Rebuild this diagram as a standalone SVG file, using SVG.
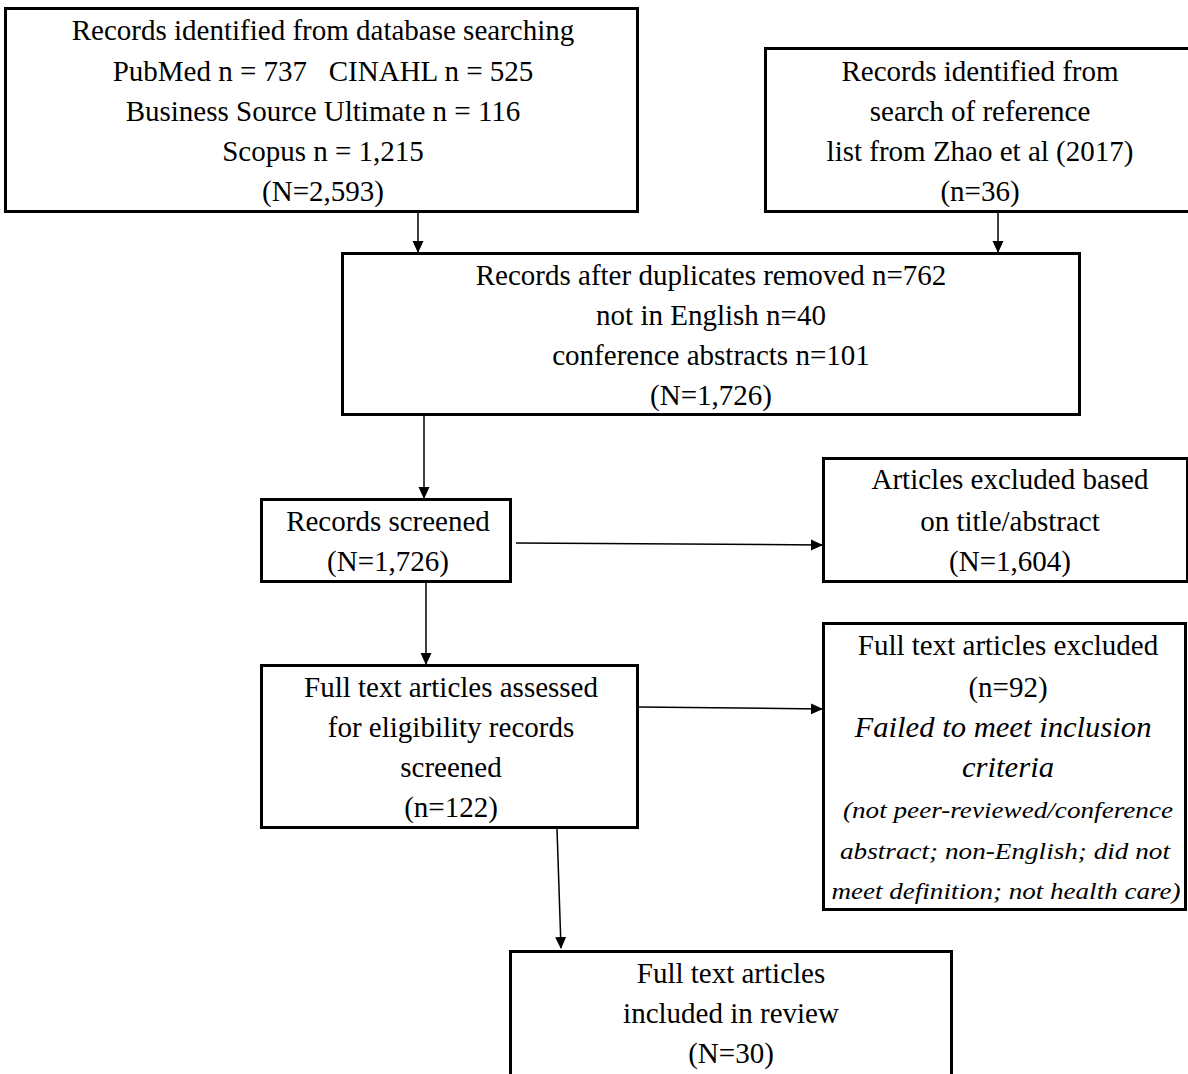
<svg xmlns="http://www.w3.org/2000/svg" width="1188" height="1074" viewBox="0 0 1188 1074">
<defs>
<style>
.box{fill:#fff;stroke:#000;stroke-width:3}
.t{font-family:"Liberation Serif","Times New Roman",serif;font-size:29px;fill:#000;text-anchor:middle}
.i{font-style:italic}
.s{font-size:23px}
.c{stroke:#000;stroke-width:1.5;fill:none}
</style>
<marker id="ah" markerWidth="12" markerHeight="12" refX="11" refY="6" orient="auto" markerUnits="userSpaceOnUse">
<path d="M0,0.5 L12,6 L0,11.5 Z" fill="#000"/>
</marker>
</defs>
<rect width="1188" height="1074" fill="#fff"/>
<g id="connectors">
<line class="c" x1="418" y1="213" x2="418" y2="252" marker-end="url(#ah)"/>
<line class="c" x1="998" y1="213" x2="998" y2="252" marker-end="url(#ah)"/>
<line class="c" x1="424" y1="416" x2="424" y2="498" marker-end="url(#ah)"/>
<line class="c" x1="516" y1="543" x2="822" y2="545" marker-end="url(#ah)"/>
<line class="c" x1="426" y1="583" x2="426" y2="664" marker-end="url(#ah)"/>
<line class="c" x1="639" y1="707" x2="822" y2="709" marker-end="url(#ah)"/>
<line class="c" x1="557" y1="829" x2="561" y2="948" marker-end="url(#ah)"/>
</g>
<g id="n1">
<rect class="box" x="5.5" y="8.5" width="632" height="203"/>
<text class="t" x="323" y="40">Records identified from database searching</text>
<text class="t" x="323" y="81" xml:space="preserve">PubMed n = 737   CINAHL n = 525</text>
<text class="t" x="323" y="121">Business Source Ultimate n = 116</text>
<text class="t" x="323" y="161">Scopus n = 1,215</text>
<text class="t" x="323" y="201">(N=2,593)</text>
</g>
<g id="n2">
<rect class="box" x="765.5" y="48.5" width="425" height="163"/>
<text class="t" x="980" y="81">Records identified from</text>
<text class="t" x="980" y="121">search of reference</text>
<text class="t" x="980" y="161">list from Zhao et al (2017)</text>
<text class="t" x="980" y="201">(n=36)</text>
</g>
<g id="n3">
<rect class="box" x="342.5" y="253.5" width="737" height="161"/>
<text class="t" x="711" y="285">Records after duplicates removed n=762</text>
<text class="t" x="711" y="325">not in English n=40</text>
<text class="t" x="711" y="365">conference abstracts n=101</text>
<text class="t" x="711" y="405">(N=1,726)</text>
</g>
<g id="n4">
<rect class="box" x="261.5" y="499.5" width="249" height="82"/>
<text class="t" x="388" y="531">Records screened</text>
<text class="t" x="388" y="571">(N=1,726)</text>
</g>
<g id="n5">
<rect class="box" x="823.5" y="458.5" width="364" height="123"/>
<text class="t" x="1010" y="489">Articles excluded based</text>
<text class="t" x="1010" y="531">on title/abstract</text>
<text class="t" x="1010" y="571">(N=1,604)</text>
</g>
<g id="n6">
<rect class="box" x="261.5" y="665.5" width="376" height="162"/>
<text class="t" x="451" y="697">Full text articles assessed</text>
<text class="t" x="451" y="737">for eligibility records</text>
<text class="t" x="451" y="777">screened</text>
<text class="t" x="451" y="817">(n=122)</text>
</g>
<g id="n7">
<rect class="box" x="823.5" y="623.5" width="362" height="286"/>
<text class="t" x="1008" y="655">Full text articles excluded</text>
<text class="t" x="1008" y="697">(n=92)</text>
<text class="t i" x="1003" y="737" textLength="297" lengthAdjust="spacingAndGlyphs">Failed to meet inclusion</text>
<text class="t i" x="1008" y="777" textLength="92" lengthAdjust="spacingAndGlyphs">criteria</text>
<text class="t i s" x="1008" y="818" textLength="330" lengthAdjust="spacingAndGlyphs">(not peer-reviewed/conference</text>
<text class="t i s" x="1005" y="859" textLength="330" lengthAdjust="spacingAndGlyphs">abstract; non-English; did not</text>
<text class="t i s" x="1006" y="899" textLength="349" lengthAdjust="spacingAndGlyphs">meet definition; not health care)</text>
</g>
<g id="n8">
<rect class="box" x="510.5" y="951.5" width="441" height="125"/>
<text class="t" x="731" y="983">Full text articles</text>
<text class="t" x="731" y="1023">included in review</text>
<text class="t" x="731" y="1063">(N=30)</text>
</g>
</svg>
